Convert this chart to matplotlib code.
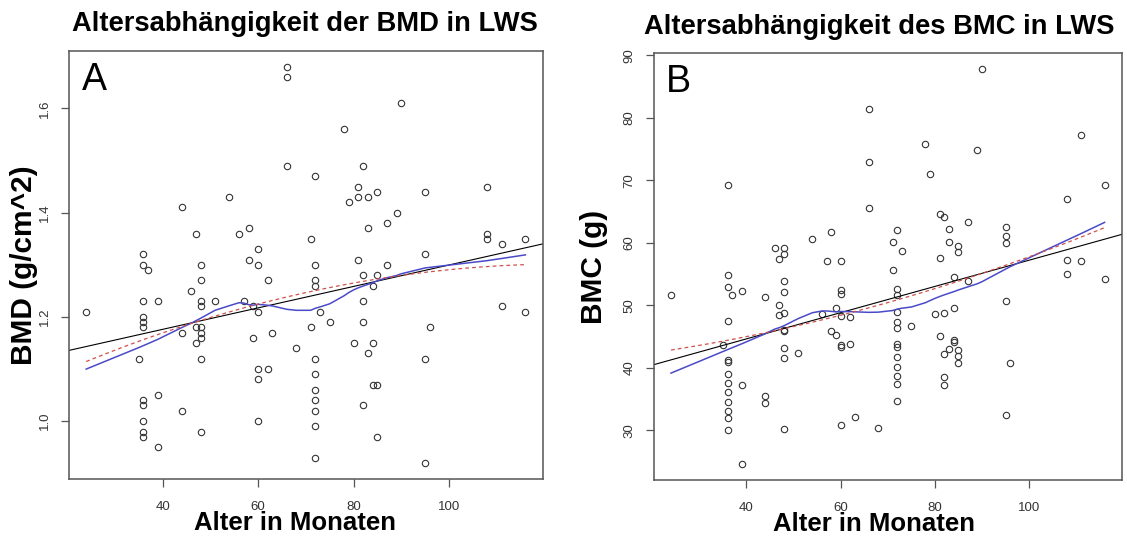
import numpy as np
import matplotlib
matplotlib.use("Agg")
import matplotlib.pyplot as plt

plt.rcParams['font.family'] = ['Liberation Sans', 'DejaVu Sans']

# Alter (Monate) und BMD der LWS, Panel A
age_a = [66, 66, 66, 54, 44, 47, 56, 58, 60, 58, 36, 71, 90, 78, 82, 72, 81, 79,
         81, 83, 85, 95, 108, 89, 87, 83, 108, 108, 111, 116, 95, 81, 72, 87, 82,
         85, 72, 72, 84, 82, 73, 75, 82, 71, 96, 111, 116, 80, 84, 83, 72, 95, 72,
         72, 84, 85, 72, 72, 82, 72, 85, 39, 72, 95, 36, 37, 48, 60, 48, 62, 46,
         36, 39, 48, 48, 51, 57, 59, 60, 24, 36, 36, 36, 44, 47, 48, 48, 48, 47,
         59, 63, 68, 35, 48, 60, 62, 60, 39, 36, 36, 44, 36, 60, 36, 36, 48]
bmd = [1.68, 1.66, 1.49, 1.43, 1.41, 1.36, 1.36, 1.37, 1.33, 1.31, 1.32, 1.35,
       1.61, 1.56, 1.49, 1.47, 1.45, 1.42, 1.43, 1.43, 1.44, 1.44, 1.45, 1.40,
       1.38, 1.37, 1.36, 1.35, 1.34, 1.35, 1.32, 1.31, 1.30, 1.30, 1.28, 1.28,
       1.27, 1.26, 1.26, 1.23, 1.21, 1.19, 1.19, 1.18, 1.18, 1.22, 1.21, 1.15,
       1.15, 1.13, 1.12, 1.12, 1.09, 1.06, 1.07, 1.07, 1.04, 1.02, 1.03, 0.99,
       0.97, 0.95, 0.93, 0.92, 1.30, 1.29, 1.30, 1.30, 1.27, 1.27, 1.25, 1.23,
       1.23, 1.23, 1.22, 1.23, 1.23, 1.22, 1.21, 1.21, 1.20, 1.19, 1.18, 1.17,
       1.18, 1.18, 1.17, 1.16, 1.15, 1.16, 1.17, 1.14, 1.12, 1.12, 1.10, 1.10,
       1.08, 1.05, 1.04, 1.03, 1.02, 1.00, 1.00, 0.98, 0.97, 0.98]

# Alter (Monate) und BMC der LWS, Panel B
age_b = [36, 54, 58, 66, 66, 66, 90, 78, 89, 79, 111, 116, 108, 72, 71, 73, 81, 82,
         83, 87, 83, 85, 85, 81, 95, 95, 95, 24, 36, 36, 37, 39, 36, 35, 36, 36,
         36, 36, 36, 36, 36, 36, 36, 39, 44, 44, 44, 46, 48, 48, 47, 48, 48, 47,
         47, 48, 48, 48, 48, 48, 51, 48, 57, 60, 60, 60, 56, 59, 60, 62, 58, 59,
         60, 60, 62, 60, 63, 39, 71, 72, 72, 84, 87, 72, 72, 72, 75, 80, 82, 84,
         95, 72, 72, 72, 72, 72, 72, 72, 81, 84, 84, 83, 82, 85, 85, 85, 82, 82,
         96, 95, 68, 108, 111, 108, 116]
bmc = [69.2, 60.7, 61.7, 81.4, 73.0, 65.6, 87.8, 75.9, 74.9, 71.0, 77.2, 69.3,
       67.1, 62.1, 60.2, 58.7, 64.7, 64.2, 62.2, 63.4, 60.2, 59.5, 58.6, 57.6,
       62.6, 61.1, 60.0, 51.6, 54.8, 52.9, 51.6, 52.3, 47.5, 43.6, 41.2, 40.9,
       39.0, 37.6, 36.2, 34.5, 33.1, 32.0, 30.1, 37.3, 35.5, 34.4, 51.4, 59.2,
       59.2, 58.3, 57.5, 53.9, 52.2, 50.1, 48.5, 48.8, 46.1, 45.9, 43.2, 41.6,
       42.4, 30.3, 57.1, 57.1, 52.4, 51.9, 48.6, 49.6, 48.3, 48.1, 45.9, 45.3,
       43.6, 43.4, 43.8, 30.9, 32.1, 24.6, 55.7, 52.6, 51.7, 54.5, 53.9, 48.9,
       47.3, 46.4, 46.7, 48.7, 48.8, 49.6, 50.7, 43.9, 43.4, 41.7, 40.1, 38.7,
       37.5, 34.7, 45.1, 44.5, 44.2, 43.0, 42.3, 42.9, 41.9, 40.8, 38.6, 37.2,
       40.8, 32.4, 30.4, 57.3, 57.1, 55.1, 54.3]

x_ticks = [40, 60, 80, 100]
y_ticks_a = [1.0, 1.2, 1.4, 1.6]
y_ticks_b = [30, 40, 50, 60, 70, 80, 90]


def lowess(x, y, f=0.5, it=3):
    # robust local linear smoother, like R's lowess()
    order = np.argsort(x, kind='stable')
    x = np.asarray(x, float)[order]
    y = np.asarray(y, float)[order]
    n = len(x)
    r = int(round(f * n))
    rw = np.ones(n)
    fit = np.zeros(n)
    for _ in range(it + 1):
        for i in range(n):
            d = np.abs(x - x[i])
            h = np.sort(d)[r - 1]
            u = np.clip(d / h, 0, 1)
            w = (1 - u ** 3) ** 3 * rw
            c = np.polyfit(x - x[i], y, 1, w=np.sqrt(w))
            fit[i] = c[-1]
        res = y - fit
        s = np.median(np.abs(res))
        u = np.clip(res / (6 * s), -1, 1)
        rw = (1 - u ** 2) ** 2
    return x, fit


def panel(ax, x, y, yticks, ylabel, title, letter, tx, lx_, ly_):
    x = np.asarray(x, float)
    y = np.asarray(y, float)
    ax.plot(x, y, 'o', mfc='none', mec='#333333', ms=4.6, mew=0.8)

    # lineare Regression
    b1, b0 = np.polyfit(x, y, 1)
    ax.axline((0, b0), slope=b1, color='black', lw=0.8)

    # lowess
    lx, ly = lowess(x, y)
    ax.plot(lx, ly, color='#4a4ac8', lw=1.1)

    # quadratischer Fit
    q = np.polyfit(x, y, 2)
    qx = np.linspace(x.min(), x.max(), 100)
    ax.plot(qx, np.polyval(q, qx), color='#d0504a', lw=0.9, dashes=(3, 2.5))

    rx = x.max() - x.min()
    ry = y.max() - y.min()
    ax.set_xlim(x.min() - 0.04 * rx, x.max() + 0.04 * rx)
    ax.set_ylim(y.min() - 0.04 * ry, y.max() + 0.04 * ry)
    ax.set_xticks(x_ticks)
    ax.set_yticks(yticks)
    ax.set_yticklabels([str(t) for t in yticks], rotation=90, va='center')
    ax.tick_params(length=6, width=0.9, color='#555555', labelsize=9.5,
                   labelcolor='#333333', pad=7)
    ax.tick_params(axis='x', pad=10)
    for s in ax.spines.values():
        s.set_color('#555555')
        s.set_linewidth(1.1)
    ax.set_xlabel('Alter in Monaten', fontsize=18.5, fontweight='bold')
    ax.xaxis.set_label_coords(lx_, -0.075)
    ax.set_ylabel(ylabel, fontsize=21.5, fontweight='bold')
    ax.yaxis.set_label_coords(ly_, 0.5)
    ax.set_title(title, fontsize=19.7, fontweight='bold', pad=14, x=tx)
    ax.text(0.027, 0.975, letter, transform=ax.transAxes, fontsize=27,
            ha='left', va='top')


fig = plt.figure(figsize=(11.27, 5.36), dpi=100)
ax1 = fig.add_axes([0.0609, 0.107, 0.4209, 0.798])
ax2 = fig.add_axes([0.580, 0.1045, 0.4155, 0.796])

panel(ax1, age_a, bmd, y_ticks_a, 'BMD (g/cm^2)', 'Altersabhängigkeit der BMD in LWS', 'A',
      0.498, 0.478, -0.065)
panel(ax2, age_b, bmc, y_ticks_b, 'BMC (g)', 'Altersabhängigkeit des BMC in LWS', 'B',
      0.482, 0.471, -0.097)

fig.savefig('out.png', dpi=100)
